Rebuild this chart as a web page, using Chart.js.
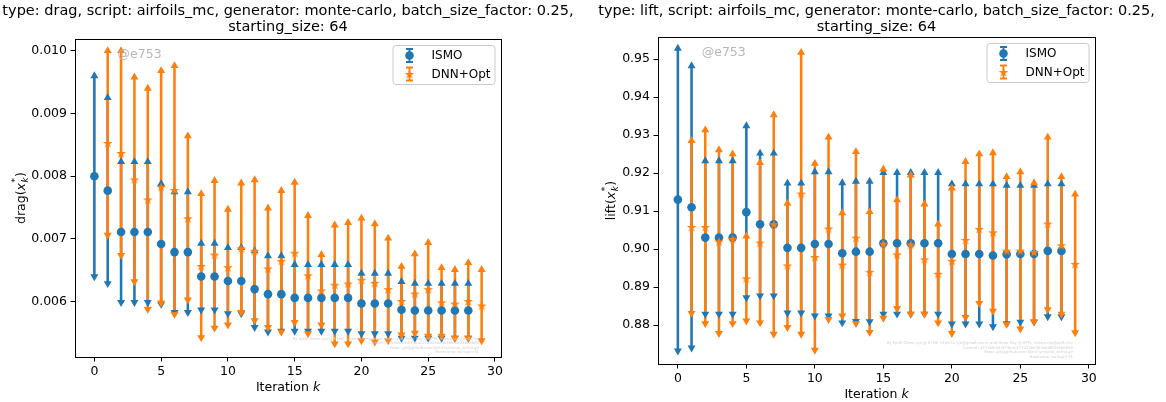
<!DOCTYPE html>
<html>
<head>
<meta charset="utf-8">
<script src="https://cdn.jsdelivr.net/npm/chart.js@4.4.1/dist/chart.umd.min.js"></script>
<style>
  html, body { margin: 0; padding: 0; background: #fff; }
  #wrap { position: relative; width: 1166px; height: 402px; }
  .panel { position: absolute; top: 0; width: 583px; height: 402px; }
</style>
</head>
<body>
<div id="wrap">
  <div class="panel" style="left:0"><canvas id="drag" width="583" height="402"></canvas></div>
  <div class="panel" style="left:583px"><canvas id="lift" width="583" height="402"></canvas></div>
</div>
<script>
// iterations
const iterIsmo = [0, 1, 2, 3, 4, 5, 6, 7, 8, 9, 10, 11, 12, 13, 14, 15, 16, 17, 18, 19, 20, 21, 22, 23, 24, 25, 26, 27, 28];
const iterDnn = [1, 2, 3, 4, 5, 6, 7, 8, 9, 10, 11, 12, 13, 14, 15, 16, 17, 18, 19, 20, 21, 22, 23, 24, 25, 26, 27, 28, 29];

// drag, ISMO
const dragIsmoMean = [0.00800, 0.00777, 0.00711, 0.00711, 0.00711, 0.00692, 0.00679, 0.00679, 0.00640, 0.00640,
  0.00633, 0.00633, 0.00620, 0.00612, 0.00612, 0.00606, 0.00606, 0.00606, 0.00606, 0.00606,
  0.00597, 0.00597, 0.00597, 0.00587, 0.00586, 0.00586, 0.00586, 0.00586, 0.00586];
const dragIsmoHigh = [0.00960, 0.00925, 0.00823, 0.00823, 0.00823, 0.00788, 0.00775, 0.00775, 0.00693, 0.00693,
  0.00686, 0.00686, 0.00681, 0.00673, 0.00673, 0.00659, 0.00659, 0.00659, 0.00659, 0.00659,
  0.00645, 0.00645, 0.00645, 0.00632, 0.00629, 0.00629, 0.00629, 0.00629, 0.00629];
const dragIsmoLow = [0.00640, 0.00629, 0.00599, 0.00599, 0.00599, 0.00596, 0.00583, 0.00583, 0.00587, 0.00587,
  0.00581, 0.00581, 0.00559, 0.00552, 0.00553, 0.00553, 0.00553, 0.00553, 0.00553, 0.00553,
  0.00549, 0.00549, 0.00549, 0.00542, 0.00542, 0.00542, 0.00542, 0.00542, 0.00542];

// drag, DNN+Opt
const dragDnnMean = [0.00853, 0.00837, 0.00795, 0.00763, 0.00783, 0.00778, 0.00733, 0.00657, 0.00675, 0.00655,
  0.00685, 0.00681, 0.00653, 0.00665, 0.00678, 0.00642, 0.00618, 0.00627, 0.00629, 0.00635,
  0.00630, 0.00620, 0.00601, 0.00613, 0.00620, 0.00599, 0.00597, 0.00601, 0.00594];
const dragDnnHigh = [0.01000, 0.01000, 0.00958, 0.00940, 0.00968, 0.00976, 0.00864, 0.00772, 0.00793, 0.00747,
  0.00789, 0.00794, 0.00749, 0.00777, 0.00790, 0.00737, 0.00675, 0.00722, 0.00726, 0.00733,
  0.00724, 0.00701, 0.00656, 0.00676, 0.00694, 0.00654, 0.00651, 0.00662, 0.00651];
const dragDnnLow = [0.00706, 0.00674, 0.00632, 0.00588, 0.00598, 0.00580, 0.00603, 0.00543, 0.00558, 0.00563,
  0.00583, 0.00570, 0.00559, 0.00552, 0.00567, 0.00549, 0.00563, 0.00533, 0.00533, 0.00538,
  0.00536, 0.00538, 0.00547, 0.00550, 0.00545, 0.00545, 0.00542, 0.00542, 0.00538];

// lift, ISMO
const liftIsmoMean = [0.9130, 0.9110, 0.9030, 0.9030, 0.9030, 0.9097, 0.9065, 0.9065, 0.9003, 0.9003,
  0.9013, 0.9013, 0.8989, 0.8993, 0.8993, 0.9015, 0.9015, 0.9015, 0.9015, 0.9015,
  0.8987, 0.8987, 0.8987, 0.8983, 0.8986, 0.8987, 0.8987, 0.8995, 0.8995];
const liftIsmoHigh = [0.9528, 0.9482, 0.9232, 0.9232, 0.9232, 0.9324, 0.9252, 0.9252, 0.9173, 0.9173,
  0.9203, 0.9203, 0.9174, 0.9178, 0.9178, 0.9201, 0.9201, 0.9201, 0.9201, 0.9201,
  0.9171, 0.9171, 0.9171, 0.9171, 0.9167, 0.9167, 0.9167, 0.9171, 0.9171];
const liftIsmoLow = [0.8732, 0.8740, 0.8829, 0.8829, 0.8829, 0.8872, 0.8877, 0.8877, 0.8832, 0.8832,
  0.8824, 0.8824, 0.8806, 0.8810, 0.8809, 0.8829, 0.8829, 0.8829, 0.8829, 0.8829,
  0.8803, 0.8803, 0.8803, 0.8796, 0.8804, 0.8808, 0.8808, 0.8822, 0.8822];

// lift, DNN+Opt
const liftDnnMean = [0.9058, 0.9058, 0.9020, 0.9027, 0.8923, 0.9017, 0.9065, 0.8957, 0.9146, 0.8979,
  0.9054, 0.8959, 0.9030, 0.8940, 0.9014, 0.8986, 0.9012, 0.8973, 0.8935, 0.8969,
  0.9024, 0.9053, 0.9044, 0.8996, 0.8996, 0.8992, 0.9067, 0.9010, 0.8961];
const liftDnnHigh = [0.9285, 0.9313, 0.9261, 0.9250, 0.9034, 0.9227, 0.9353, 0.9120, 0.9517, 0.9225,
  0.9294, 0.9095, 0.9256, 0.9098, 0.9210, 0.9129, 0.9194, 0.9118, 0.9065, 0.9160,
  0.9230, 0.9250, 0.9253, 0.9190, 0.9203, 0.9174, 0.9294, 0.9190, 0.9144];
const liftDnnLow = [0.8831, 0.8804, 0.8778, 0.8804, 0.8811, 0.8806, 0.8776, 0.8794, 0.8776, 0.8734,
  0.8815, 0.8824, 0.8804, 0.8781, 0.8818, 0.8844, 0.8829, 0.8829, 0.8806, 0.8778,
  0.8820, 0.8857, 0.8837, 0.8802, 0.8790, 0.8809, 0.8841, 0.8829, 0.8780];

// ticks
const xTicks = [0, 5, 10, 15, 20, 25, 30];
const dragYTicks = [0.006, 0.007, 0.008, 0.009, 0.010];
const dragYTickLabels = ['0.006', '0.007', '0.008', '0.009', '0.010'];
const liftYTicks = [0.88, 0.89, 0.90, 0.91, 0.92, 0.93, 0.94, 0.95];
const liftYTickLabels = ['0.88', '0.89', '0.90', '0.91', '0.92', '0.93', '0.94', '0.95'];

const seriesNames = ['ISMO', 'DNN+Opt'];
const BLUE = '#1f77b4';
const ORANGE = '#ff7f0e';
const FONT = "'DejaVu Sans', sans-serif";

const footerLines = [
  'By Kjetil Olsen Lye @ ETHZ <kjetil.o.lye@gmail.com> and Deep Ray @ EPFL <deep.ray@epfl.ch>',
  'Commit: a7538fe544f73ba12710236e063b6d0f23bb6683',
  'Repo: git@github.com:kjetil-lye/ismo_airfoil.git',
  'Hostname: eu-login-31'
];

// filled five-point star, used as a point style
function starImage(color, r) {
  const size = Math.ceil(r * 2 + 2);
  const c = document.createElement('canvas');
  c.width = c.height = size;
  const g = c.getContext('2d');
  g.fillStyle = color;
  g.beginPath();
  for (let i = 0; i < 10; i++) {
    const rr = i % 2 ? r * 0.4 : r;
    const ang = -Math.PI / 2 + i * Math.PI / 5;
    const px = size / 2 + rr * Math.cos(ang);
    const py = size / 2 + 0.6 + rr * Math.sin(ang);
    if (i) g.lineTo(px, py); else g.moveTo(px, py);
  }
  g.closePath();
  g.fill();
  return c;
}
const STAR = starImage(ORANGE, 5);

// one errorbar series = bar from low to high, two caps, and the mean marker
function errorSets(xs, mean, low, high, color, meanStyle, meanRadius, base) {
  const pts = arr => xs.map((x, i) => ({ x, y: arr[i] }));
  const point = (data, extra) => Object.assign({
    type: 'scatter', data, pointBackgroundColor: color, pointBorderWidth: 0,
    pointRadius: 4.6, pointStyle: 'triangle'
  }, extra);
  return [
    {
      type: 'bar', data: xs.map((x, i) => ({ x, y: [low[i], high[i]] })),
      backgroundColor: color, borderWidth: 0, barThickness: 1.9, grouped: false, order: 20 + base
    },
    point(pts(high), { order: 10 + base }),
    point(pts(low), { pointRotation: 180, order: 10 + base }),
    point(pts(mean), { pointStyle: meanStyle, pointRadius: meanRadius, order: 2 + base })
  ];
}

function drawLegendMarker(ctx, x, y, color, kind) {
  ctx.strokeStyle = color;
  ctx.fillStyle = color;
  ctx.lineWidth = 1.8;
  ctx.beginPath();
  ctx.moveTo(x, y - 6.5); ctx.lineTo(x, y + 6.5);
  ctx.moveTo(x - 3.5, y - 6.5); ctx.lineTo(x + 3.5, y - 6.5);
  ctx.moveTo(x - 3.5, y + 6.5); ctx.lineTo(x + 3.5, y + 6.5);
  ctx.stroke();
  if (kind === 'circle') {
    ctx.beginPath(); ctx.arc(x, y, 4.3, 0, Math.PI * 2); ctx.fill();
  } else {
    ctx.drawImage(STAR, x - STAR.width / 2, y - STAR.height / 2);
  }
}

// titles, axis labels, full frame, legend and watermarks
const decor = {
  id: 'decor',
  afterDraw(chart, args, o) {
    const { ctx, chartArea: a } = chart;
    const cx = (a.left + a.right) / 2;
    ctx.save();

    ctx.strokeStyle = '#000';
    ctx.lineWidth = 1;
    ctx.strokeRect(Math.round(a.left) + 0.5, Math.round(a.top) + 0.5,
      Math.round(a.right - a.left), Math.round(a.bottom - a.top));

    ctx.fillStyle = '#000';
    ctx.font = `14.5px ${FONT}`;
    ctx.textAlign = 'center';
    ctx.textBaseline = 'alphabetic';
    ctx.fillText(o.title[0], cx, 15);
    ctx.fillText(o.title[1], cx, 31);

    // x label: Iteration k
    const xb = a.bottom + 34;
    ctx.font = `12.5px ${FONT}`;
    const t1 = 'Iteration ';
    const w1 = ctx.measureText(t1).width;
    ctx.font = `italic 12.5px ${FONT}`;
    const wk = ctx.measureText('k').width;
    const sx = cx - (w1 + wk) / 2;
    ctx.textAlign = 'left';
    ctx.font = `12.5px ${FONT}`;
    ctx.fillText(t1, sx, xb);
    ctx.font = `italic 12.5px ${FONT}`;
    ctx.fillText('k', sx + w1, xb);

    // y label: name(x_k^*)
    ctx.save();
    ctx.translate(o.yLabelX, (a.top + a.bottom) / 2);
    ctx.rotate(-Math.PI / 2);
    ctx.font = `12.5px ${FONT}`;
    const pre = o.yName + '(';
    const wp = ctx.measureText(pre).width;
    ctx.font = `italic 12.5px ${FONT}`;
    const wx = ctx.measureText('x').width;
    ctx.font = `italic 8.8px ${FONT}`;
    const wsub = Math.max(ctx.measureText('k').width, ctx.measureText('*').width);
    ctx.font = `12.5px ${FONT}`;
    const wc = ctx.measureText(')').width;
    let px = -(wp + wx + wsub + wc + 1) / 2;
    const base = 4.5;
    ctx.fillText(pre, px, base); px += wp;
    ctx.font = `italic 12.5px ${FONT}`;
    ctx.fillText('x', px, base); px += wx;
    ctx.font = `italic 8.8px ${FONT}`;
    ctx.fillText('k', px + 0.5, base + 3);
    ctx.font = `8.8px ${FONT}`;
    ctx.fillText('*', px + 0.5, base - 6.5);
    px += wsub + 1;
    ctx.font = `12.5px ${FONT}`;
    ctx.fillText(')', px, base);
    ctx.restore();

    // watermark
    ctx.fillStyle = '#b8b8b8';
    ctx.font = `12.5px ${FONT}`;
    ctx.textBaseline = 'middle';
    ctx.fillText('@e753', a.left + 0.1 * (a.right - a.left), a.top + 16);

    // footer
    ctx.fillStyle = '#d0d0d0';
    ctx.font = `3.8px ${FONT}`;
    ctx.textAlign = 'right';
    footerLines.forEach((line, i) => {
      ctx.fillText(line, a.right - 22, a.bottom - o.footerUp + i * 4.5);
    });

    // legend
    const bw = 102, bh = 39;
    const bx = a.right - 6.5 - bw, by = a.top + 6;
    ctx.beginPath();
    ctx.roundRect(bx + 0.5, by + 0.5, bw, bh, 3);
    ctx.fillStyle = 'rgba(255,255,255,0.8)';
    ctx.fill();
    ctx.strokeStyle = '#cccccc';
    ctx.lineWidth = 1;
    ctx.stroke();
    const kinds = ['circle', 'star'];
    const colors = [BLUE, ORANGE];
    seriesNames.forEach((name, i) => {
      const y = by + 10.5 + i * 18.5;
      drawLegendMarker(ctx, bx + 17, y, colors[i], kinds[i]);
      ctx.fillStyle = '#000';
      ctx.font = `12px ${FONT}`;
      ctx.textAlign = 'left';
      ctx.textBaseline = 'middle';
      ctx.fillText(name, bx + 39, y + 0.5);
    });

    ctx.restore();
  }
};

function makeChart(id, cfg) {
  const tickFont = { family: FONT, size: 12.5 };
  const grid = { display: true, drawOnChartArea: false, drawTicks: true, offset: false, tickLength: 4.5, tickColor: '#000', tickWidth: 1 };
  return new Chart(document.getElementById(id), {
    type: 'scatter',
    data: {
      datasets: [
        ...errorSets(iterIsmo, cfg.ismo[0], cfg.ismo[1], cfg.ismo[2], BLUE, 'circle', 4.3, 1),
        ...errorSets(iterDnn, cfg.dnn[0], cfg.dnn[1], cfg.dnn[2], ORANGE, STAR, 5, 0)
      ]
    },
    options: {
      responsive: false,
      animation: false,
      events: [],
      layout: { padding: { left: 0, top: cfg.top, right: cfg.padRight, bottom: 0 } },
      scales: {
        x: {
          type: 'linear', min: -1.45, max: 30.45, offset: false,
          afterFit: s => { s.height = 402 - cfg.bottom; },
          afterBuildTicks: s => { s.ticks = xTicks.map(v => ({ value: v })); },
          ticks: { font: tickFont, color: '#000', padding: 3, autoSkip: false, maxRotation: 0, callback: v => String(v) },
          grid, border: { display: false }
        },
        y: {
          type: 'linear', min: cfg.yMin, max: cfg.yMax,
          afterFit: s => { s.width = 75; },
          afterBuildTicks: s => { s.ticks = cfg.yTicks.map(v => ({ value: v })); },
          ticks: { font: tickFont, color: '#000', padding: 3.5, autoSkip: false, callback: (v, i) => cfg.yLabels[i] },
          grid, border: { display: false }
        }
      },
      plugins: {
        legend: { display: false },
        tooltip: { enabled: false },
        decor: { title: cfg.title, yName: cfg.yName, yLabelX: cfg.yLabelX, footerUp: cfg.footerUp }
      }
    },
    plugins: [decor]
  });
}

makeChart('drag', {
  title: ['type: drag, script: airfoils_mc, generator: monte-carlo, batch_size_factor: 0.25,', 'starting_size: 64'],
  yName: 'drag', yLabelX: 20, footerUp: 18,
  top: 39, bottom: 357, padRight: 82, yMin: 0.005118, yMax: 0.010187,
  yTicks: dragYTicks, yLabels: dragYTickLabels,
  ismo: [dragIsmoMean, dragIsmoLow, dragIsmoHigh],
  dnn: [dragDnnMean, dragDnnLow, dragDnnHigh]
});

makeChart('lift', {
  title: ['type: lift, script: airfoils_mc, generator: monte-carlo, batch_size_factor: 0.25,', 'starting_size: 64'],
  yName: 'lift', yLabelX: 27, footerUp: 20.5,
  top: 37, bottom: 364, padRight: 71, yMin: 0.86974, yMax: 0.95579,
  yTicks: liftYTicks, yLabels: liftYTickLabels,
  ismo: [liftIsmoMean, liftIsmoLow, liftIsmoHigh],
  dnn: [liftDnnMean, liftDnnLow, liftDnnHigh]
});
</script>
</body>
</html>
